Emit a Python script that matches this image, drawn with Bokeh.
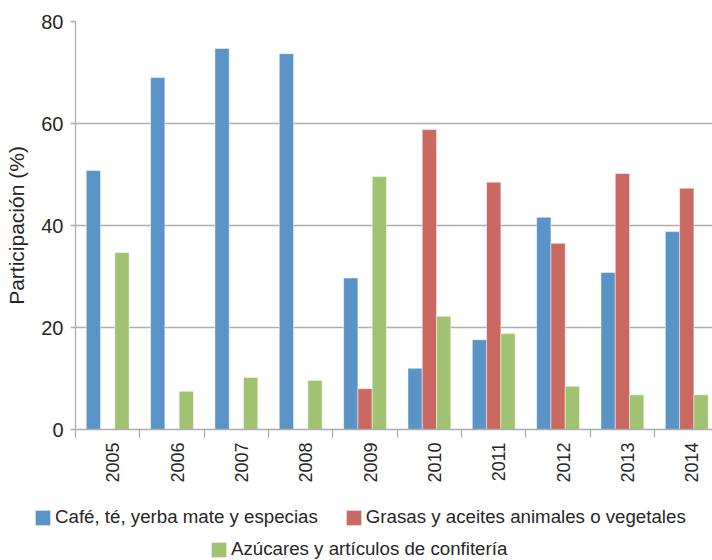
import math
from bokeh.plotting import figure
from bokeh.models import Range1d, FixedTicker, Legend, LegendItem, ColumnDataSource
from bokeh.transform import dodge
from bokeh.embed import file_html
from bokeh.resources import INLINE

years = ["2005", "2006", "2007", "2008", "2009", "2010", "2011", "2012", "2013", "2014"]
cafe = [50.8, 69.0, 74.7, 73.7, 29.7, 12.0, 17.6, 41.6, 30.8, 38.8]
grasas = [None, None, None, None, 8.0, 58.8, 48.5, 36.5, 50.2, 47.3]
azucares = [34.7, 7.5, 10.2, 9.6, 49.6, 22.2, 18.8, 8.5, 6.8, 6.8]
series_names = ["Café, té, yerba mate y especias",
                "Grasas y aceites animales o vegetales",
                "Azúcares y artículos de confitería"]
colors = ["#5A94C6", "#CA6862", "#A0C372"]
y_ticks = [0, 20, 40, 60, 80]

FONT = "Liberation Sans"
TXT = "#262626"
GRID = "#ADADAD"

xs = [i + 0.5 for i in range(len(years))]
src = ColumnDataSource(dict(x=xs, cafe=cafe,
                            grasas=[float("nan") if v is None else v for v in grasas],
                            azucares=azucares))

p = figure(width=712, height=489, output_backend="svg", toolbar_location=None,
           x_range=Range1d(0, 9.9), y_range=Range1d(0, 80),
           min_border_left=75, min_border_right=0, min_border_top=21,
           min_border_bottom=60)
p.outline_line_color = None
p.background_fill_color = "white"
p.border_fill_color = "white"

bw = 0.222
rs = []
for key, off, col in zip(["cafe", "grasas", "azucares"], [-bw, 0, bw], colors):
    r = p.vbar(x=dodge("x", off), top=key, bottom=0, width=bw, source=src,
               fill_color=col, line_color="white", line_width=0.8, line_alpha=0.6)
    rs.append(r)

# grid
p.xgrid.grid_line_color = None
p.ygrid.grid_line_color = GRID
p.ygrid.grid_line_width = 1.3

# y axis
p.yaxis.ticker = FixedTicker(ticks=y_ticks)
p.yaxis.axis_label = "Participación (%)"
p.yaxis.axis_label_text_font = FONT
p.yaxis.axis_label_text_font_size = "21px"
p.yaxis.axis_label_text_font_style = "normal"
p.yaxis.axis_label_text_color = TXT
p.yaxis.axis_label_standoff = 10
p.yaxis.major_label_text_font = FONT
p.yaxis.major_label_text_font_size = "20px"
p.yaxis.major_label_text_color = TXT
p.yaxis.major_label_standoff = 7
p.yaxis.major_tick_out = 5
p.yaxis.major_tick_in = 0
p.yaxis.minor_tick_line_color = None
p.yaxis.axis_line_color = GRID
p.yaxis.major_tick_line_color = GRID
p.yaxis.axis_line_width = 1.3
p.yaxis.major_tick_line_width = 1.3

# x axis: labels at the category centres, tick marks at the category boundaries
label_pos = [x + 0.08 for x in xs]
p.xaxis.ticker = FixedTicker(ticks=label_pos, minor_ticks=list(range(len(years) + 1)))
p.xaxis.major_label_overrides = {x: y for x, y in zip(label_pos, years)}
p.xaxis.major_label_orientation = math.pi / 2
p.xaxis.major_label_text_font = FONT
p.xaxis.major_label_text_font_size = "18px"
p.xaxis.major_label_text_color = TXT
p.xaxis.major_label_standoff = 5
p.xaxis.major_tick_out = 0
p.xaxis.major_tick_in = 0
p.xaxis.minor_tick_out = 8
p.xaxis.minor_tick_in = 0
p.xaxis.minor_tick_line_color = GRID
p.xaxis.minor_tick_line_width = 1.3
p.xaxis.axis_line_color = GRID
p.xaxis.axis_line_width = 1.3

# legend strip below the chart (separate root so it is not frame-aligned)
pl = figure(width=712, height=71, output_backend="svg", toolbar_location=None,
            x_range=Range1d(0, 1), y_range=Range1d(0, 1), min_border=0,
            x_axis_location=None, y_axis_location=None)
pl.outline_line_color = None
pl.grid.visible = False
pl.border_fill_color = "white"
nan = float("nan")
lr = [pl.vbar(x=[nan], top=[nan], width=0.1, fill_color=c, line_color="white",
              line_width=0.8, line_alpha=0.6) for c in colors]


def make_legend(items, loc):
    return Legend(items=items, location=loc, orientation="horizontal",
                  glyph_width=19, glyph_height=19, label_standoff=3, spacing=26,
                  padding=0, margin=0, border_line_color=None,
                  background_fill_alpha=0, label_text_font=FONT,
                  label_text_font_size="18.7px", label_text_color=TXT,
                  label_height=15)


lg1 = make_legend([LegendItem(label=series_names[0], renderers=[lr[0]]),
                   LegendItem(label=series_names[1], renderers=[lr[1]])], (33, 32))
lg2 = make_legend([LegendItem(label=series_names[2], renderers=[lr[2]])], (209, 0))
pl.add_layout(lg1, "center")
pl.add_layout(lg2, "center")

open("out.html", "w").write(file_html([p, pl], INLINE))
